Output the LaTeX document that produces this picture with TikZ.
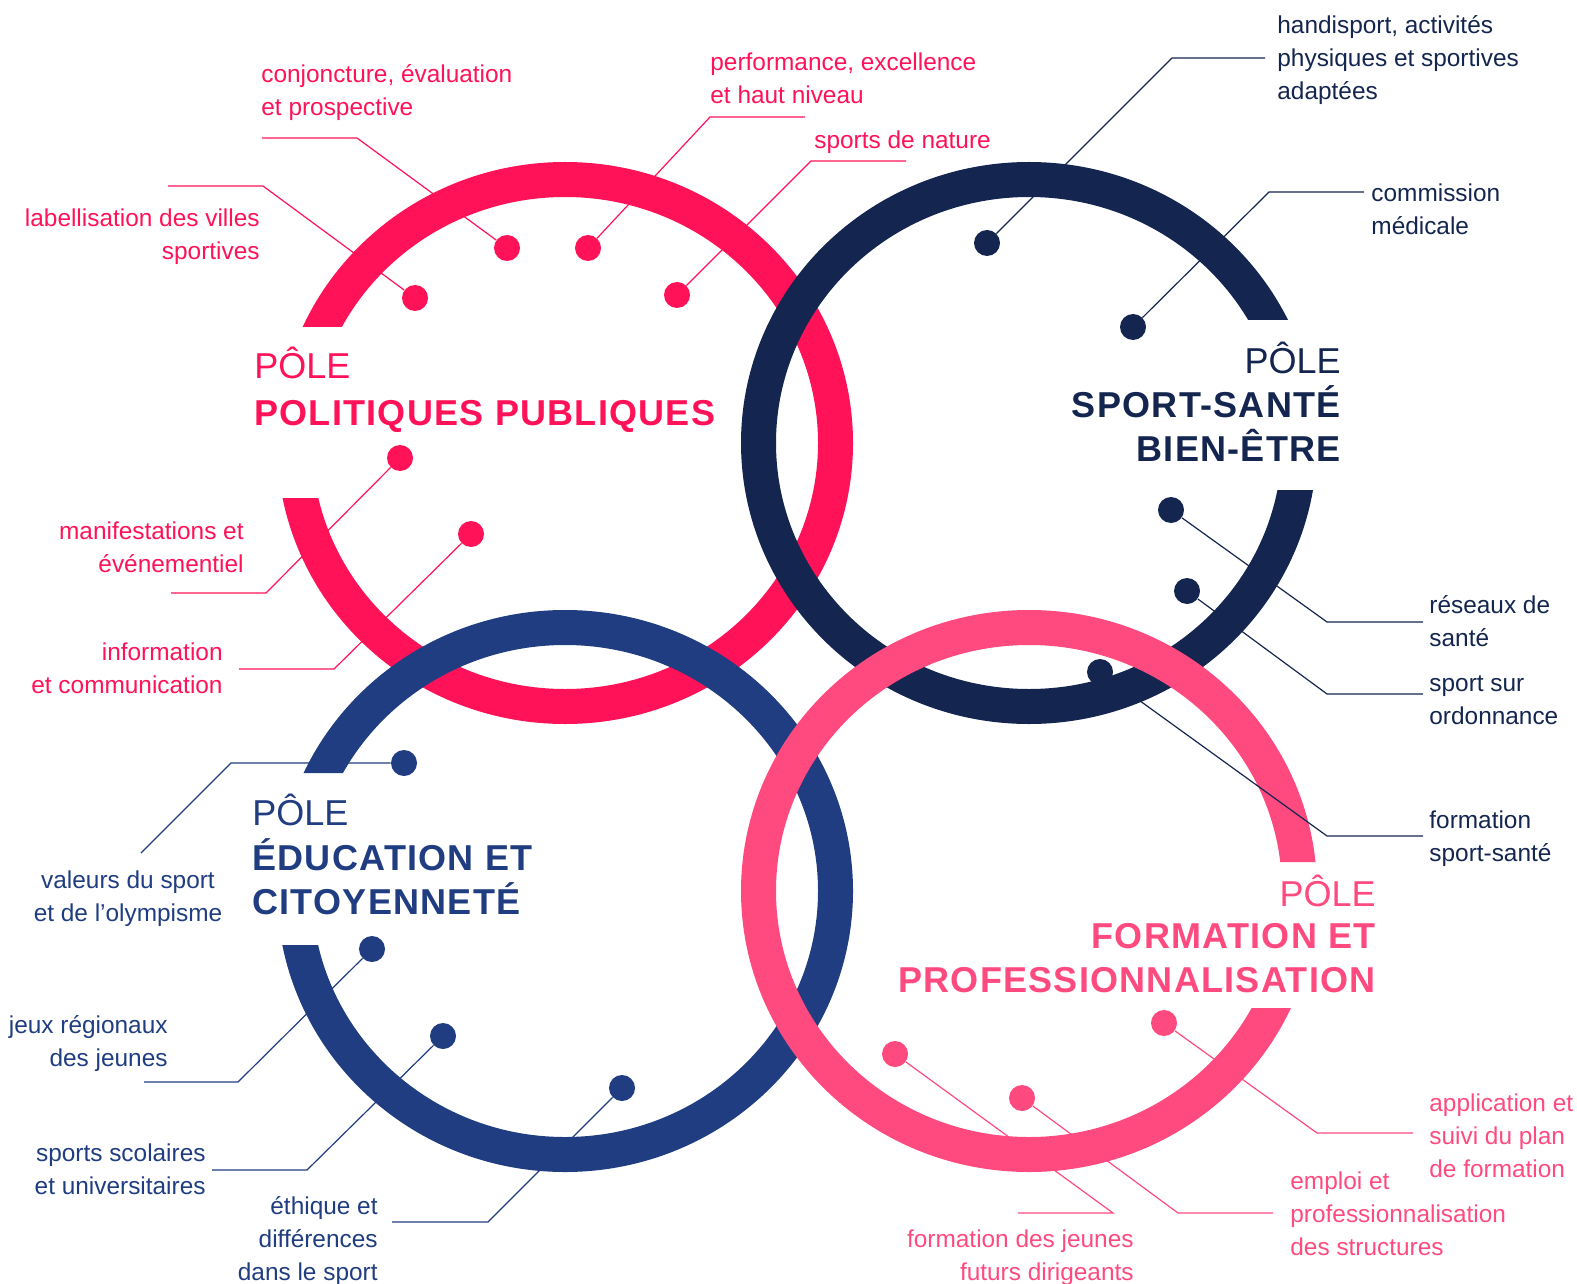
\documentclass[tikz,border=0pt]{standalone}
\usepackage{fontspec}
\setmainfont{Liberation Sans}
\newfontfamily\titlefont[LetterSpace=3.5]{Liberation Sans}
\usetikzlibrary{positioning}
\definecolor{polpink}{RGB}{255,18,88}
\definecolor{santenavy}{RGB}{20,38,79}
\definecolor{edublue}{RGB}{31,61,128}
\definecolor{formpink}{RGB}{255,74,127}
\tikzstyle{ring}=[line width=17.5pt]
\tikzstyle{hubdot}=[circle,minimum size=13pt,inner sep=0pt]
\tikzstyle{leader}=[draw,line width=0.6pt]
\tikzstyle{topic}=[inner sep=0pt,font=\fontsize{12.2}{16.5}\selectfont]
\tikzstyle{polehead}=[inner sep=0pt,font=\fontsize{18}{22}\selectfont]
\tikzstyle{polename}=[inner sep=0pt,font=\titlefont\bfseries\fontsize{18}{21.8}\selectfont]

\begin{document}
\begin{tikzpicture}[x=0.5pt,y=-0.5pt]
  \useasboundingbox (0,0) rectangle (1577,1283);

  % the four rings, each with an opening for its title
  \begin{scope}
    \clip (0,0) -- (1577,0) -- (1577,1283) -- (0,1283) -- (0,498) -- (565,498) -- (565,327) -- (0,327) -- cycle;
    \draw[ring,polpink] (565,443) ellipse[x radius=135.25pt,y radius=131.75pt];
  \end{scope}
  \begin{scope}
    \clip (0,0) -- (1577,0) -- (1577,320) -- (1029,320) -- (1029,490) -- (1577,490) -- (1577,1283) -- (0,1283) -- cycle;
    \draw[ring,santenavy] (1029,443) ellipse[x radius=135.25pt,y radius=131.75pt];
  \end{scope}
  \begin{scope}
    \clip (0,0) -- (1577,0) -- (1577,1283) -- (0,1283) -- (0,945) -- (565,945) -- (565,773) -- (0,773) -- cycle;
    \draw[ring,edublue] (565,891) ellipse[x radius=135.25pt,y radius=131.75pt];
  \end{scope}
  \begin{scope}
    \clip (0,0) -- (1577,0) -- (1577,862) -- (1029,862) -- (1029,1008) -- (1577,1008) -- (1577,1283) -- (0,1283) -- cycle;
    \draw[ring,formpink] (1029,891) ellipse[x radius=135.25pt,y radius=131.75pt];
  \end{scope}

  % politiques publiques
  \foreach \n/\dx/\dy/\ax/\ay/\bx/\by in {1/415/298/168/186/263/186, 2/507/248/262/138/357/138,
      3/588/248/805/117/710/117, 4/677/295/906/161/811/161,
      5/400/458/171/593/266/593, 6/471/534/239/669/334/669}
  {
    \node[hubdot,fill=polpink] (pp\n) at (\dx,\dy) {};
    \coordinate (pp\n-end) at (\ax,\ay);
    \coordinate (pp\n-bend) at (\bx,\by);
    \path[leader,polpink] (pp\n-end) -- (pp\n-bend) -- (pp\n);
  }

  % sport-sante
  \foreach \n/\dx/\dy/\ax/\ay/\bx/\by in {1/987/243/1265/58/1172/58, 2/1133/327/1364/192/1269/192,
      3/1171/510/1423/622/1327/622, 4/1187/591/1423/694/1327/694,
      5/1100/672/1423/836/1327/836}
  {
    \node[hubdot,fill=santenavy] (ss\n) at (\dx,\dy) {};
    \coordinate (ss\n-end) at (\ax,\ay);
    \coordinate (ss\n-bend) at (\bx,\by);
    \path[leader,santenavy] (ss\n-end) -- (ss\n-bend) -- (ss\n);
  }

  % education
  \foreach \n/\dx/\dy/\ax/\ay/\bx/\by in {1/404/763/141/853/231/763, 2/372/949/144/1082/238/1082,
      3/443/1036/212/1170/307/1170, 4/622/1088/392/1222/488/1222}
  {
    \node[hubdot,fill=edublue] (ec\n) at (\dx,\dy) {};
    \coordinate (ec\n-end) at (\ax,\ay);
    \coordinate (ec\n-bend) at (\bx,\by);
    \path[leader,edublue] (ec\n-end) -- (ec\n-bend) -- (ec\n);
  }

  % formation
  \foreach \n/\dx/\dy/\ax/\ay/\bx/\by in {1/1164/1023/1413/1133/1317/1133, 2/1022/1098/1273/1213/1178/1213,
      3/895/1054/1018/1213/1113/1213}
  {
    \node[hubdot,fill=formpink] (fp\n) at (\dx,\dy) {};
    \coordinate (fp\n-end) at (\ax,\ay);
    \coordinate (fp\n-bend) at (\bx,\by);
    \path[leader,formpink] (fp\n-end) -- (fp\n-bend) -- (fp\n);
  }

  % titles (a node with several lines sits on its last line)
  \node[polehead,polpink,anchor=base west] (pp-head) at (254,379) {PÔLE};
  \node[polename,polpink,anchor=base west] (pp-name) at (254,425) {POLITIQUES PUBLIQUES};
  \node[polehead,santenavy,anchor=base east] (ss-head) at (1341,373) {PÔLE};
  \node[polename,santenavy,anchor=base east,align=right] (ss-name) at (1341,461) {SPORT-SANTÉ\\BIEN-ÊTRE};
  \node[polehead,edublue,anchor=base west] (ec-head) at (252,825) {PÔLE};
  \node[polename,edublue,anchor=base west,align=left] (ec-name) at (252,914) {ÉDUCATION ET\\CITOYENNETÉ};
  \node[polehead,formpink,anchor=base east] (fp-head) at (1376,906) {PÔLE};
  \node[polename,formpink,anchor=base east,align=right] (fp-name) at (1376,992) {FORMATION ET\\PROFESSIONNALISATION};

  % topics
  \node[topic,polpink,anchor=base east,align=right] (pp1-text) at (260,260) {labellisation des villes\\sportives};
  \node[topic,polpink,anchor=base west,align=left] (pp2-text) at (261,116) {conjoncture, évaluation\\et prospective};
  \node[topic,polpink,anchor=base west,align=left] (pp3-text) at (710,104) {performance, excellence\\et haut niveau};
  \node[topic,polpink,anchor=base west] (pp4-text) at (814,149) {sports de nature};
  \node[topic,polpink,anchor=base east,align=right] (pp5-text) at (244,572) {manifestations et\\événementiel};
  \node[topic,polpink,anchor=base east,align=right] (pp6-text) at (223,693) {information\\et communication};

  \node[topic,santenavy,anchor=base west,align=left] (ss1-text) at (1277,100) {handisport, activités\\physiques et sportives\\adaptées};
  \node[topic,santenavy,anchor=base west,align=left] (ss2-text) at (1371,235) {commission\\médicale};
  \node[topic,santenavy,anchor=base west,align=left] (ss3-text) at (1429,646) {réseaux de\\santé};
  \node[topic,santenavy,anchor=base west,align=left] (ss4-text) at (1429,724) {sport sur\\ordonnance};
  \node[topic,santenavy,anchor=base west,align=left] (ss5-text) at (1429,861) {formation\\sport-santé};

  \node[topic,edublue,anchor=base,align=center] (ec1-text) at (128,921) {valeurs du sport\\et de l'olympisme};
  \node[topic,edublue,anchor=base east,align=right] (ec2-text) at (168,1066) {jeux régionaux\\des jeunes};
  \node[topic,edublue,anchor=base east,align=right] (ec3-text) at (206,1194) {sports scolaires\\et universitaires};
  \node[topic,edublue,anchor=base east,align=right] (ec4-text) at (378,1280) {éthique et\\différences\\dans le sport};

  \node[topic,formpink,anchor=base west,align=left] (fp1-text) at (1429,1177) {application et\\suivi du plan\\de formation};
  \node[topic,formpink,anchor=base west,align=left] (fp2-text) at (1290,1255) {emploi et\\professionnalisation\\des structures};
  \node[topic,formpink,anchor=base east,align=right] (fp3-text) at (1134,1280) {formation des jeunes\\futurs dirigeants};
\end{tikzpicture}
\end{document}
